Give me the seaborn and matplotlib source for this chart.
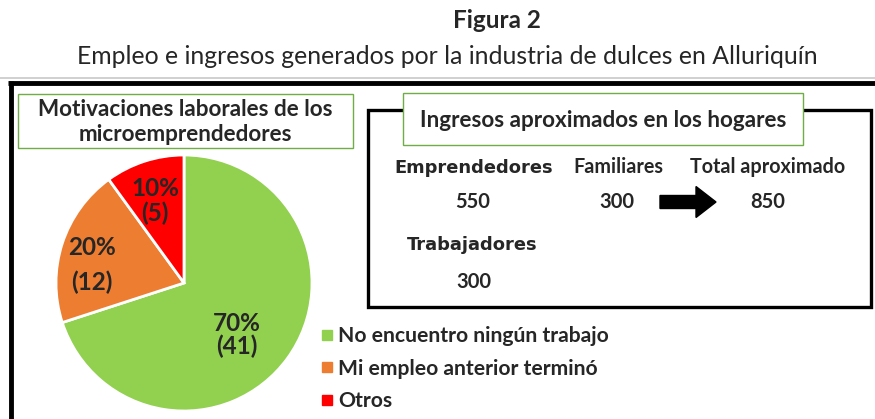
import matplotlib
matplotlib.use("Agg")
import matplotlib.pyplot as plt
from matplotlib.patches import Rectangle, FancyArrow
from matplotlib.lines import Line2D
import numpy as np
import seaborn as sns

# ---- data -------------------------------------------------------------------
motives = ["No encuentro ningún trabajo", "Mi empleo anterior terminó", "Otros"]
motive_pct = [70, 20, 10]
motive_counts = [41, 12, 5]
motive_colors = ["#92D050", "#ED7D31", "#FF0000"]

income_headers = ["Emprendedores", "Familiares", "Total aproximado", "Trabajadores"]
income_values = [550, 300, 850, 300]

W, H = 875, 419
sns.set_theme(style="white")
plt.rcParams["font.family"] = ["Lato", "DejaVu Sans"]

fig = plt.figure(figsize=(W / 100, H / 100), dpi=100)

# overlay in pixel coordinates (y downwards)
ov = fig.add_axes([0, 0, 1, 1])
ov.set_xlim(0, W); ov.set_ylim(H, 0); ov.axis("off")

ov.text(497, 20, "Figura 2", ha="center", va="center", fontsize=17.5, fontweight="bold")
ov.text(447, 57, "Empleo e ingresos generados por la industria de dulces en Alluriquín",
        ha="center", va="center", fontsize=17.8)
ov.plot([0, W], [78, 78], color="#c8c8c8", lw=1.2)
ov.plot([8, W], [83, 83], color="black", lw=3.5, solid_capstyle="butt")
ov.plot([10.5, 10.5], [81, H], color="black", lw=3.5, solid_capstyle="butt")

# left title box
ov.add_patch(Rectangle((18, 94), 335, 54, facecolor="white", edgecolor="#70AD47", lw=1))
ov.text(185, 122, "Motivaciones laborales de los\nmicroemprendedores", ha="center", va="center",
        fontsize=16.2, fontweight="bold", linespacing=1.25)

# right panel
ov.add_patch(Rectangle((368, 110), 503, 197, facecolor="none", edgecolor="black", lw=2.4))
ov.add_patch(Rectangle((403, 93), 400, 52, facecolor="white", edgecolor="#70AD47", lw=1, zorder=3))
ov.text(603, 120, "Ingresos aproximados en los hogares", ha="center", va="center",
        fontsize=16.2, fontweight="bold", zorder=4)

hdr_pos = [(474, 168), (618, 167), (768, 167), (472, 245)]
val_pos = [(473, 202), (617, 202), (768, 202), (474, 282)]
heavy = {"Emprendedores", "Trabajadores"}
for name, (x, y) in zip(income_headers, hdr_pos):
    if name in heavy:
        ov.text(x, y, name, ha="center", va="center", fontsize=12.9, fontweight="heavy",
                family=["DejaVu Sans"])
    else:
        ov.text(x, y, name, ha="center", va="center", fontsize=14.2, fontweight="bold")
for v, (x, y) in zip(income_values, val_pos):
    ov.text(x, y, f"{v}", ha="center", va="center", fontsize=14.5, fontweight="bold")
ov.add_patch(FancyArrow(660, 202, 36, 0, width=13, head_width=31, head_length=20,
                        length_includes_head=False, color="black"))

# legend
handles = [Line2D([0], [0], marker="s", color="none", markerfacecolor=c,
                  markeredgecolor=c, markersize=7) for c in motive_colors]
leg = ov.legend(handles, motives, loc="upper left", bbox_to_anchor=(313 / W, 1 - 318 / H),
                bbox_transform=fig.transFigure, frameon=False, handlelength=0.5,
                handletextpad=0.3, labelspacing=0.58, borderaxespad=0,
                prop={"size": 15.2, "weight": "bold", "family": ["Lato", "DejaVu Sans"]})

# pie
cx, cy, r = 184, 283, 128
pax = fig.add_axes([(cx - r) / W, (H - cy - r) / H, 2 * r / W, 2 * r / H])
labels = [f"{p}%\n({n})" for p, n in zip(motive_pct, motive_counts)]
wedges, _ = pax.pie(motive_pct, colors=motive_colors, startangle=90, counterclock=False,
                    wedgeprops={"edgecolor": "white", "linewidth": 2})
mids = []
start = 90.0
for p in motive_pct:
    mids.append(start - p * 3.6 / 2)
    start -= p * 3.6
dists = [0.58, 0.73, 0.68]
shift = [-8.5, 7, 1.5]
spacing = [1.0, 1.6, 1.05]
for lab, ang, d, s, ls in zip(labels, mids, dists, shift, spacing):
    a = np.deg2rad(ang + s)
    pax.text(d * np.cos(a), d * np.sin(a), lab, ha="center", va="center",
             fontsize=17.5, fontweight="bold", linespacing=ls)
pax.set_xlim(-1, 1); pax.set_ylim(-1, 1); pax.set_aspect("equal")
pax.axis("off")

fig.savefig("out.png", dpi=100)
